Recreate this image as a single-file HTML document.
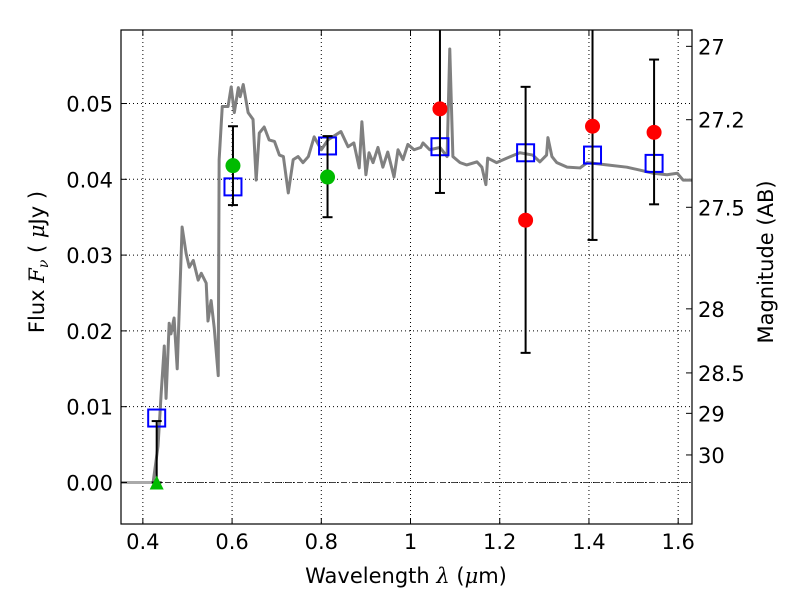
<!DOCTYPE html>
<html><head><meta charset="utf-8"><style>
body{margin:0;background:#fff}
svg{display:block;font-family:"DejaVu Sans","Liberation Sans",sans-serif}
</style></head><body>
<svg id="chart" width="800" height="600"><defs><clipPath id="pc"><rect x="121" y="30" width="571" height="494"/></clipPath></defs></svg>
<script>
const specLam=[0.351,0.423,0.434,0.441,0.448,0.452,0.459,0.463,0.470,0.477,0.488,0.497,0.504,0.513,0.524,0.531,0.542,0.546,0.553,0.560,0.569,0.571,0.578,0.591,0.598,0.605,0.614,0.618,0.625,0.636,0.647,0.654,0.661,0.672,0.683,0.695,0.706,0.715,0.726,0.737,0.748,0.759,0.771,0.784,0.800,0.815,0.844,0.860,0.873,0.885,0.891,0.900,0.907,0.916,0.927,0.938,0.949,0.963,0.972,0.983,0.994,1.008,1.023,1.028,1.043,1.066,1.082,1.088,1.095,1.111,1.126,1.149,1.160,1.169,1.173,1.193,1.216,1.245,1.274,1.290,1.305,1.308,1.317,1.328,1.351,1.380,1.396,1.440,1.485,1.515,1.544,1.575,1.598,1.611,1.631];
const specFlux=[0,0,0.0048,0.0117,0.0180,0.0111,0.0210,0.0196,0.0217,0.0150,0.0337,0.0302,0.0284,0.0293,0.0267,0.0276,0.0263,0.0213,0.0240,0.0204,0.0141,0.0426,0.0496,0.0496,0.0522,0.0488,0.0521,0.0509,0.0525,0.0488,0.0479,0.0399,0.0461,0.0469,0.0452,0.0450,0.0432,0.0430,0.0382,0.0426,0.0430,0.0422,0.0430,0.0456,0.0439,0.0452,0.0463,0.0443,0.0448,0.0415,0.0476,0.0406,0.0435,0.0422,0.0442,0.0416,0.0436,0.0403,0.0439,0.0426,0.0446,0.0439,0.0442,0.0448,0.0439,0.0442,0.0430,0.0572,0.0430,0.0422,0.0419,0.0423,0.0416,0.0393,0.0428,0.0422,0.0428,0.0435,0.0432,0.0423,0.0432,0.0455,0.0430,0.0422,0.0416,0.0415,0.0422,0.0419,0.0416,0.0412,0.0408,0.0406,0.0408,0.0399,0.0399];
const modelLam=[0.431,0.602,0.814,1.066,1.258,1.408,1.546];
const modelFlux=[0.0085,0.0390,0.0444,0.0443,0.0435,0.0432,0.0421];
const greenLam=[0.602,0.814];
const greenFlux=[0.0418,0.0403];
const greenErrLo=[0.0366,0.0350];
const greenErrHi=[0.0470,0.0457];
const redLam=[1.066,1.258,1.408,1.546];
const redFlux=[0.0493,0.0346,0.0470,0.0462];
const redErrLo=[0.0382,0.0171,0.0320,0.0367];
const redErrHi=[0.0604,0.0522,0.0620,0.0558];
const limLam=[0.431];
const limFlux=[0];
const limErrHi=[0.0081];
const xTicks=[0.4,0.6,0.8,1.0,1.2,1.4,1.6];
const xTickLabels=["0.4","0.6","0.8","1","1.2","1.4","1.6"];
const yTicks=[0,0.01,0.02,0.03,0.04,0.05];
const yTickLabels=["0.00","0.01","0.02","0.03","0.04","0.05"];
const magTicks=[27,27.2,27.5,28,28.5,29,30];
const magTickLabels=["27","27.2","27.5","28","28.5","29","30"];

const L=121,R=692,T=30,B=524;
const X0=0.351,X1=1.631,Y0=-0.00548,Y1=0.0597;
const sx=v=>L+(v-X0)/(X1-X0)*(R-L);
const sy=v=>B-(v-Y0)/(Y1-Y0)*(B-T);
const magToFlux=m=>Math.pow(10,(23.9-m)/2.5);
const svg=document.getElementById('chart');
const NS='http://www.w3.org/2000/svg';
function mk(tag,attrs,parent){const e=document.createElementNS(NS,tag);for(const k in attrs)e.setAttribute(k,attrs[k]);(parent||svg).appendChild(e);return e;}

const grid=mk('g',{});


xTicks.forEach(t=>{mk('line',{x1:sx(t),x2:sx(t),y1:T,y2:B,stroke:'#000','stroke-width':1,'stroke-dasharray':'1,3'},grid);});
yTicks.forEach(t=>{mk('line',{x1:L,x2:R,y1:sy(t),y2:sy(t),stroke:'#000','stroke-width':1,'stroke-dasharray':'1,3'},grid);});
const zl=mk('line',{x1:L,x2:R,y1:sy(0),y2:sy(0),stroke:'#444','stroke-width':1,'stroke-dasharray':'6,2,1,2'});



const data=mk('g',{'clip-path':'url(#pc)'});



const flatIdx=2;
const flat=mk('polyline',{points:specLam.slice(0,flatIdx).map((l,i)=>sx(l)+','+sy(specFlux[i])).join(' '),fill:'none',stroke:'#aaa','stroke-width':3},data);


const spec=mk('polyline',{points:specLam.slice(flatIdx-1).map((l,i)=>sx(l)+','+sy(specFlux[i+flatIdx-1])).join(' '),fill:'none',stroke:'#808080','stroke-width':3,'stroke-linejoin':'round'},data);



function errbar(l,lo,hi,name){
  const g=mk('g',{},data);
  
  
  const x=sx(l);
  mk('line',{x1:x,x2:x,y1:sy(lo),y2:sy(hi),stroke:'#000','stroke-width':2},g);
  mk('line',{x1:x-5,x2:x+5,y1:sy(lo),y2:sy(lo),stroke:'#000','stroke-width':2},g);
  mk('line',{x1:x-5,x2:x+5,y1:sy(hi),y2:sy(hi),stroke:'#000','stroke-width':2},g);
}
modelLam.forEach((l,i)=>{
  const r=mk('rect',{x:sx(l)-8.5,y:sy(modelFlux[i])-8.5,width:17,height:17,fill:'none',stroke:'#0000ff','stroke-width':2},data);
  
  
});
limLam.forEach((l,i)=>{
  errbar(l,limFlux[i],limErrHi[i],'upper-limit-errorbar');
  const x=sx(l),y=sy(limFlux[i]);
  const p=mk('polygon',{points:`${x-7},${y+7} ${x+7},${y+7} ${x},${y-7}`,fill:'#00bb00'},data);
  
  
});
greenLam.forEach((l,i)=>{
  errbar(l,greenErrLo[i],greenErrHi[i],'green-errorbar');
  const c=mk('circle',{cx:sx(l),cy:sy(greenFlux[i]),r:7.5,fill:'#00bb00'},data);
  
  
});
redLam.forEach((l,i)=>{
  errbar(l,redErrLo[i],redErrHi[i],'red-errorbar');
  const c=mk('circle',{cx:sx(l),cy:sy(redFlux[i]),r:7.5,fill:'#ff0000'},data);
  
  
});

const fr=mk('rect',{x:L,y:T,width:R-L,height:B-T,fill:'none',stroke:'#000','stroke-width':1.2});



xTicks.forEach((t,i)=>{
  mk('line',{x1:sx(t),x2:sx(t),y1:B,y2:B-6,stroke:'#000'});
  mk('line',{x1:sx(t),x2:sx(t),y1:T,y2:T+6,stroke:'#000'});
  const tx=mk('text',{x:sx(t),y:B+25,'text-anchor':'middle','font-size':21});
  tx.textContent=xTickLabels[i];
  
  
});
yTicks.forEach((t,i)=>{
  mk('line',{x1:L,x2:L+6,y1:sy(t),y2:sy(t),stroke:'#000'});
  const tx=mk('text',{x:L-8,y:sy(t)+8,'text-anchor':'end','font-size':21});
  tx.textContent=yTickLabels[i];
  
  
});
magTicks.forEach((m,i)=>{
  const y=sy(magToFlux(m));
  mk('line',{x1:R,x2:R-6,y1:y,y2:y,stroke:'#000'});
  const tx=mk('text',{x:R+6,y:y+8,'font-size':21});
  tx.textContent=magTickLabels[i];
  
  
});
</script>
<svg width="800" height="600" style="position:absolute;left:0;top:0">
<text x="406" y="583" text-anchor="middle" font-size="21" font-family="DejaVu Sans, Liberation Sans, sans-serif">Wavelength  <tspan font-style="italic" font-family="DejaVu Serif, Liberation Serif, serif">λ</tspan> (<tspan font-style="italic" font-family="DejaVu Serif, Liberation Serif, serif">μ</tspan>m)</text>
<text transform="translate(44,262) rotate(-90)" text-anchor="middle" font-size="21" font-family="DejaVu Sans, Liberation Sans, sans-serif">Flux  <tspan font-style="italic" font-family="DejaVu Serif, Liberation Serif, serif">F<tspan font-size="14" dy="4">ν</tspan></tspan><tspan dy="-4">  (  </tspan><tspan font-style="italic" font-family="DejaVu Serif, Liberation Serif, serif">μ</tspan>Jy )</text>
<text transform="translate(773,262) rotate(-90)" text-anchor="middle" font-size="21" font-family="DejaVu Sans, Liberation Sans, sans-serif">Magnitude (AB)</text>
</svg>
</body></html>
